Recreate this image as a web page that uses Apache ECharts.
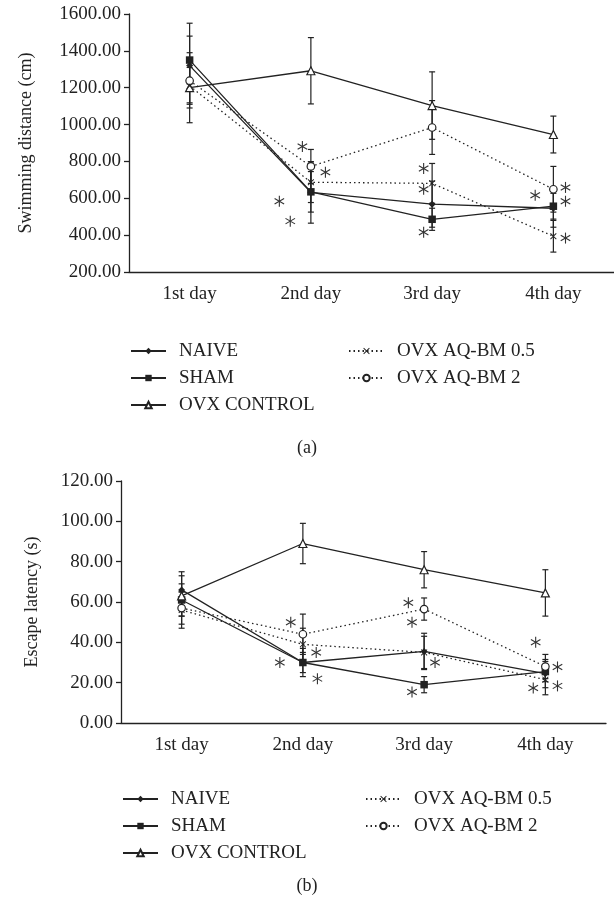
<!DOCTYPE html>
<html>
<head>
<meta charset="utf-8">
<script src="https://cdn.jsdelivr.net/npm/echarts@6/dist/echarts.min.js"></script>
<style>
  html, body { margin: 0; padding: 0; background: #fff; }
  #main { width: 614px; height: 902px; }
</style>
</head>
<body>
<div id="main"></div>
<script>
const days = ['1st day', '2nd day', '3rd day', '4th day'];
const groups = ['NAIVE', 'SHAM', 'OVX CONTROL', 'OVX AQ-BM 0.5', 'OVX AQ-BM 2'];

// (a) swimming distance (cm), mean and error per day
const distNaive = [1320, 632, 568, 546];
const distSham = [1350, 635, 486, 557];
const distOvx = [1200, 1292, 1103, 946];
const distAq05 = [1210, 687, 681, 394];
const distAq2 = [1238, 773, 984, 649];
const distNaiveErr = [230, 167, 125, 103];
const distShamErr = [130, 110, 60, 70];
const distOvxErr = [190, 180, 183, 100];
const distAq05Err = [100, 110, 108, 86];
const distAq2Err = [120, 92, 146, 124];

// (b) escape latency (s)
const latNaive = [66, 30, 35.5, 24.5];
const latSham = [61, 30, 19, 25.5];
const latOvx = [63, 89, 76, 64.5];
const latAq05 = [56, 39, 35, 21.5];
const latAq2 = [57, 44, 56.5, 28];
const latNaiveErr = [9, 7, 9, 7];
const latShamErr = [8, 5, 4, 5];
const latOvxErr = [10, 10, 9, 11.5];
const latAq05Err = [9, 8, 8, 7.5];
const latAq2Err = [8, 10, 5.5, 6];

// significance asterisks, x in day units (0..4, day centres at .5)
const distStars = [[1.43, 881], [1.62, 741], [1.24, 584], [1.33, 476], [2.43, 762], [2.43, 649],
  [2.43, 416], [3.35, 616], [3.6, 659], [3.6, 584], [3.6, 384]];
const latStars = [[1.40, 50], [1.31, 30], [1.61, 35], [1.62, 22], [2.37, 59.6], [2.4, 50],
  [2.59, 30], [2.4, 15.4], [3.42, 40], [3.6, 27.8], [3.4, 17.4], [3.6, 18.4]];

const FONT = 'Liberation Serif';
const INK = '#222';

const crossPath = 'path://M0,1 L1,0 L5,4 L9,0 L10,1 L6,5 L10,9 L9,10 L5,6 L1,10 L0,9 L4,5 Z';
const looks = [
  { symbol: 'diamond', size: 7, fill: INK, dash: 'solid' },
  { symbol: 'rect', size: 7.5, fill: INK, dash: 'solid' },
  { symbol: 'triangle', size: 8, fill: '#fff', dash: 'solid' },
  { symbol: crossPath, size: 6.5, fill: INK, dash: [1.5, 3] },
  { symbol: 'circle', size: 7.5, fill: '#fff', dash: [1.5, 3] }
];

function lineSeries(i, values, g) {
  const l = looks[i];
  return {
    name: groups[i], type: 'line', xAxisIndex: g, yAxisIndex: g,
    data: values, symbol: l.symbol, symbolSize: l.size, z: 5,
    lineStyle: { color: INK, width: 1.3, type: l.dash },
    itemStyle: { color: l.fill, borderColor: INK, borderWidth: l.fill === '#fff' ? 1.2 : 0 },
    emphasis: { disabled: true }
  };
}

function errSeries(values, errs, g) {
  return {
    type: 'custom', xAxisIndex: g, yAxisIndex: g, z: 3, silent: true,
    data: values.map((v, i) => [i, v - errs[i], v + errs[i]]),
    renderItem: function (params, api) {
      const lo = api.coord([api.value(0), api.value(1)]);
      const hi = api.coord([api.value(0), api.value(2)]);
      const st = { stroke: INK, lineWidth: 1.2 };
      return { type: 'group', children: [
        { type: 'line', shape: { x1: lo[0], y1: lo[1], x2: hi[0], y2: hi[1] }, style: st },
        { type: 'line', shape: { x1: lo[0] - 3, y1: lo[1], x2: lo[0] + 3, y2: lo[1] }, style: st },
        { type: 'line', shape: { x1: hi[0] - 3, y1: hi[1], x2: hi[0] + 3, y2: hi[1] }, style: st }
      ] };
    }
  };
}

function starSeries(stars, g) {
  return {
    type: 'custom', xAxisIndex: g + 2, yAxisIndex: g, z: 6, silent: true,
    data: stars,
    renderItem: function (params, api) {
      const c = api.coord([api.value(0), api.value(1)]);
      const r = 5.5;
      const kids = [90, 30, 150].map(a => {
        const dx = r * Math.cos(a * Math.PI / 180), dy = r * Math.sin(a * Math.PI / 180);
        return { type: 'line', shape: { x1: c[0] - dx, y1: c[1] - dy, x2: c[0] + dx, y2: c[1] + dy },
          style: { stroke: '#333', lineWidth: 1.1 } };
      });
      return { type: 'group', children: kids };
    }
  };
}

function catAxis(g) {
  return {
    type: 'category', gridIndex: g, data: days, boundaryGap: true,
    axisLine: { lineStyle: { color: INK, width: 1.3 } },
    axisTick: { length: 5, lineStyle: { color: INK, width: 1.3 } },
    axisLabel: { color: INK, fontFamily: FONT, fontSize: 19, margin: 13 }
  };
}

function valAxis(g, min, max, step, name, gap) {
  return {
    type: 'value', gridIndex: g, min: min, max: max, interval: step,
    name: name, nameLocation: 'middle', nameGap: gap,
    nameTextStyle: { color: INK, fontFamily: FONT, fontSize: 18 },
    splitLine: { show: false },
    axisLine: { show: true, lineStyle: { color: INK, width: 1.3 } },
    axisTick: { show: true, length: 5, lineStyle: { color: INK, width: 1.3 } },
    axisLabel: { color: INK, fontFamily: FONT, fontSize: 19, margin: 8,
      formatter: v => v.toFixed(2) }
  };
}

function legendBlock(names, left, top) {
  return {
    data: names, orient: 'vertical', left: left, top: top, padding: 0,
    itemWidth: 35, itemHeight: 8, itemGap: 7, selectedMode: false,
    textStyle: { color: INK, fontFamily: FONT, fontSize: 19, lineHeight: 20, padding: [0, 0, 0, 8] }
  };
}

const chart = echarts.init(document.getElementById('main'));
chart.setOption({
  animation: false,
  backgroundColor: '#fff',
  title: [
    { text: '(a)', left: 'center', top: 434, textStyle: { color: INK, fontFamily: FONT, fontSize: 18, fontWeight: 'normal' } },
    { text: '(b)', left: 'center', top: 872, textStyle: { color: INK, fontFamily: FONT, fontSize: 18, fontWeight: 'normal' } }
  ],
  grid: [
    { left: 129, top: 14, width: 485, height: 258 },
    { left: 121, top: 481, width: 485, height: 242 }
  ],
  xAxis: [
    catAxis(0), catAxis(1),
    { type: 'value', gridIndex: 0, min: 0, max: 4, show: false },
    { type: 'value', gridIndex: 1, min: 0, max: 4, show: false }
  ],
  yAxis: [
    valAxis(0, 200, 1600, 200, 'Swimming distance (cm)', 94),
    valAxis(1, 0, 120, 20, 'Escape latency (s)', 80)
  ],
  legend: [
    legendBlock(groups.slice(0, 3), 130, 341),
    legendBlock(groups.slice(3), 348, 341),
    legendBlock(groups.slice(0, 3), 122, 789),
    legendBlock(groups.slice(3), 365, 789)
  ],
  series: [
    errSeries(distNaive, distNaiveErr, 0),
    errSeries(distSham, distShamErr, 0),
    errSeries(distOvx, distOvxErr, 0),
    errSeries(distAq05, distAq05Err, 0),
    errSeries(distAq2, distAq2Err, 0),
    lineSeries(0, distNaive, 0),
    lineSeries(1, distSham, 0),
    lineSeries(2, distOvx, 0),
    lineSeries(3, distAq05, 0),
    lineSeries(4, distAq2, 0),
    starSeries(distStars, 0),
    errSeries(latNaive, latNaiveErr, 1),
    errSeries(latSham, latShamErr, 1),
    errSeries(latOvx, latOvxErr, 1),
    errSeries(latAq05, latAq05Err, 1),
    errSeries(latAq2, latAq2Err, 1),
    lineSeries(0, latNaive, 1),
    lineSeries(1, latSham, 1),
    lineSeries(2, latOvx, 1),
    lineSeries(3, latAq05, 1),
    lineSeries(4, latAq2, 1),
    starSeries(latStars, 1)
  ]
});
</script>
</body>
</html>
